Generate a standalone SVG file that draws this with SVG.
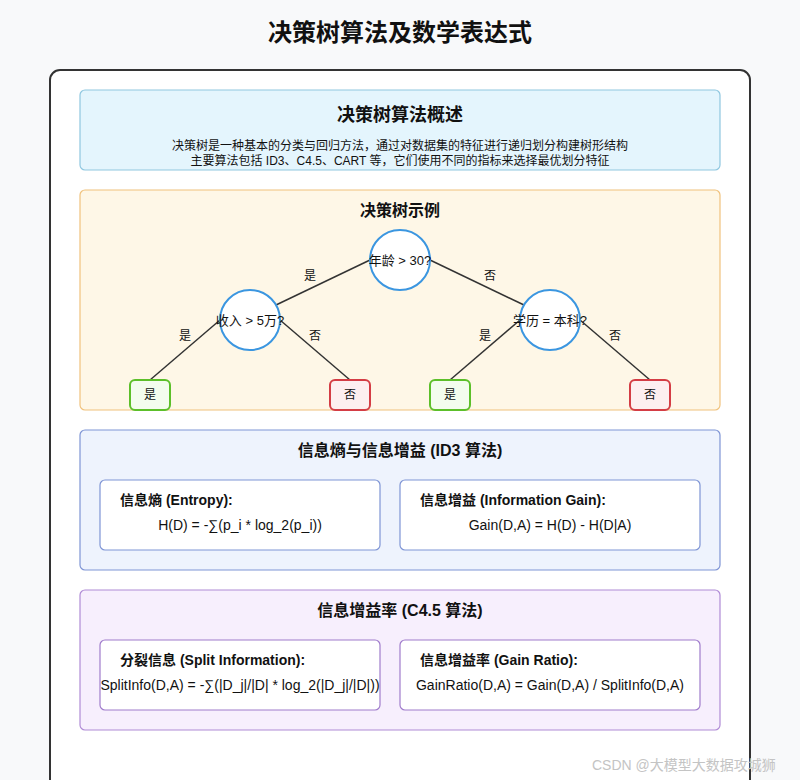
<svg xmlns="http://www.w3.org/2000/svg" width="800" height="780" viewBox="0 0 800 780">
<style>
text{font-family:"Liberation Sans","Noto Sans CJK SC",Arial,sans-serif;fill:#111}
.t{font-size:24px;font-weight:bold;text-anchor:middle}
.h{font-size:18px;font-weight:bold;text-anchor:middle}
.h2{font-size:16px;font-weight:bold;text-anchor:middle}
.d{font-size:12px;text-anchor:middle}
.q{font-size:13px;text-anchor:middle}
.lf{font-size:12px;text-anchor:middle}
.lbl{font-size:12px;text-anchor:middle}
.b{font-size:14px;font-weight:bold}
.f{font-size:14px;text-anchor:middle}
.circ{fill:#ffffff;stroke:#3b96e0;stroke-width:2}
.yes{fill:#f3fcee;stroke:#5cbf2a;stroke-width:2}
.no{fill:#fdeff0;stroke:#d43d45;stroke-width:2}
.inner{fill:#ffffff;stroke-width:1.2}
.edge{stroke:#333;stroke-width:1.5;fill:none}
</style>
<rect x="0" y="0" width="800" height="780" fill="#f8f9fa"/>
<text class="t" x="400" y="41">决策树算法及数学表达式</text>
<rect x="50" y="70" width="700" height="740" rx="10" fill="#ffffff" stroke="#333" stroke-width="2"/>

<g id="overview">
<rect x="80" y="90" width="640" height="80" rx="5" fill="#e4f5fd" stroke="#8fc7e0" stroke-width="1.2"/>
<text class="h" x="400" y="121">决策树算法概述</text>
<text class="d" x="400" y="150">决策树是一种基本的分类与回归方法，通过对数据集的特征进行递归划分构建树形结构</text>
<text class="d" x="400" y="165">主要算法包括 ID3、C4.5、CART 等，它们使用不同的指标来选择最优划分特征</text>
</g>

<g id="example">
<rect x="80" y="190" width="640" height="220" rx="5" fill="#fef7e7" stroke="#f0c27d" stroke-width="1.2"/>
<text class="h2" x="400" y="216">决策树示例</text>
</g>

<g id="connectors">
<line class="edge" x1="370" y1="260" x2="276" y2="305"/>
<line class="edge" x1="430" y1="260" x2="524" y2="305"/>
<line class="edge" x1="220" y1="320" x2="150" y2="380"/>
<line class="edge" x1="280" y1="320" x2="350" y2="380"/>
<line class="edge" x1="520" y1="320" x2="450" y2="380"/>
<line class="edge" x1="580" y1="320" x2="650" y2="380"/>
<text class="lbl" x="310" y="280">是</text>
<text class="lbl" x="490" y="280">否</text>
<text class="lbl" x="185" y="340">是</text>
<text class="lbl" x="315" y="340">否</text>
<text class="lbl" x="485" y="340">是</text>
<text class="lbl" x="615" y="340">否</text>
</g>

<g id="root">
<circle class="circ" cx="400" cy="260" r="30"/>
<text class="q" x="400" y="265">年龄 &gt; 30?</text>
</g>
<g id="income">
<circle class="circ" cx="250" cy="320" r="30"/>
<text class="q" x="250" y="325">收入 &gt; 5万?</text>
</g>
<g id="education">
<circle class="circ" cx="550" cy="320" r="30"/>
<text class="q" x="550" y="325">学历 = 本科?</text>
</g>
<g id="leaf1">
<rect class="yes" x="130" y="380" width="40" height="30" rx="5"/>
<text class="lf" x="150" y="399">是</text>
</g>
<g id="leaf2">
<rect class="no" x="330" y="380" width="40" height="30" rx="5"/>
<text class="lf" x="350" y="399">否</text>
</g>
<g id="leaf3">
<rect class="yes" x="430" y="380" width="40" height="30" rx="5"/>
<text class="lf" x="450" y="399">是</text>
</g>
<g id="leaf4">
<rect class="no" x="630" y="380" width="40" height="30" rx="5"/>
<text class="lf" x="650" y="399">否</text>
</g>

<g id="id3">
<rect x="80" y="430" width="640" height="140" rx="5" fill="#eef3fd" stroke="#7f95d5" stroke-width="1.2"/>
<text class="h2" x="400" y="456">信息熵与信息增益 (ID3 算法)</text>
</g>
<g id="entropy">
<rect class="inner" x="100" y="480" width="280" height="70" rx="5" stroke="#7f95d5"/>
<text class="b" x="120" y="505">信息熵 (Entropy):</text>
<text class="f" x="240" y="530">H(D) = -∑(p_i * log_2(p_i))</text>
</g>
<g id="gain">
<rect class="inner" x="400" y="480" width="300" height="70" rx="5" stroke="#7f95d5"/>
<text class="b" x="420" y="505">信息增益 (Information Gain):</text>
<text class="f" x="550" y="530">Gain(D,A) = H(D) - H(D|A)</text>
</g>

<g id="c45">
<rect x="80" y="590" width="640" height="140" rx="5" fill="#f7effd" stroke="#b08bd6" stroke-width="1.2"/>
<text class="h2" x="400" y="616">信息增益率 (C4.5 算法)</text>
</g>
<g id="split">
<rect class="inner" x="100" y="640" width="280" height="70" rx="5" stroke="#a07ccc"/>
<text class="b" x="120" y="665">分裂信息 (Split Information):</text>
<text class="f" x="240" y="690">SplitInfo(D,A) = -∑(|D_j|/|D| * log_2(|D_j|/|D|))</text>
</g>
<g id="ratio">
<rect class="inner" x="400" y="640" width="300" height="70" rx="5" stroke="#a07ccc"/>
<text class="b" x="420" y="665">信息增益率 (Gain Ratio):</text>
<text class="f" x="550" y="690">GainRatio(D,A) = Gain(D,A) / SplitInfo(D,A)</text>
</g>

<text x="592" y="770" style="font-size:14px;fill:#c4c4c4">CSDN @大模型大数据攻城狮</text>
</svg>
